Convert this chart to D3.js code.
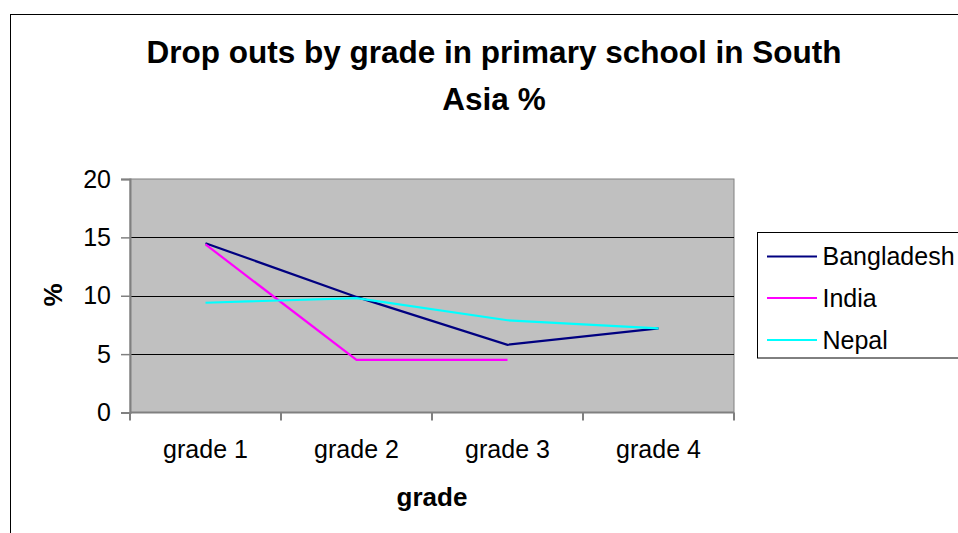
<!DOCTYPE html>
<html>
<head>
<meta charset="utf-8">
<script src="https://cdn.jsdelivr.net/npm/d3@7"></script>
<style>
  html, body { margin: 0; padding: 0; background: #fff; }
  svg { display: block; }
  text { font-family: "Liberation Sans", Arial, sans-serif; fill: #000; }
</style>
</head>
<body>
<svg id="chart" width="958" height="533"></svg>
<script>
const categories = ["grade 1", "grade 2", "grade 3", "grade 4"];
const seriesNames = ["Bangladesh", "India", "Nepal"];
const bangladesh = [14.5, 9.9, 5.8, 7.2];
const india = [14.4, 4.5, 4.5, null];
const nepal = [9.4, 9.8, 7.9, 7.2];
const yTicks = [0, 5, 10, 15, 20];
const colors = ["#000080", "#ff00ff", "#00ffff"];
const titleLines = ["Drop outs by grade in primary school in South", "Asia %"];
const xTitle = "grade";
const yTitle = "%";

const series = [bangladesh, india, nepal];
const svg = d3.select("#chart");

// chart frame
svg.append("rect").attr("x", 10.5).attr("y", 14.5).attr("width", 960).attr("height", 540)
  .attr("fill", "#fff").attr("stroke", "#000").attr("stroke-width", 1);

const plot = { left: 130, right: 734, top: 179, bottom: 412.5 };
const x = d3.scaleBand().domain(categories).range([plot.left, plot.right]).padding(0);
const y = d3.scaleLinear().domain([0, 20]).range([plot.bottom, plot.top]);

// plot area
svg.append("rect").attr("x", plot.left).attr("y", plot.top)
  .attr("width", plot.right - plot.left).attr("height", plot.bottom - plot.top)
  .attr("fill", "#c0c0c0").attr("stroke", "#808080").attr("stroke-width", 1);

// gridlines
svg.append("g").selectAll("line").data(yTicks.filter(t => t > 0 && t < 20)).join("line")
  .attr("x1", plot.left).attr("x2", plot.right)
  .attr("y1", d => Math.round(y(d)) + 0.5).attr("y2", d => Math.round(y(d)) + 0.5)
  .attr("stroke", "#000").attr("stroke-width", 1);

// y axis
const yAxis = svg.append("g").attr("transform", `translate(${plot.left},0)`)
  .call(d3.axisLeft(y).tickValues(yTicks).tickSize(9).tickPadding(10));
yAxis.select(".domain").attr("stroke", "#808080").attr("stroke-width", 2);
yAxis.selectAll(".tick line").attr("stroke", "#808080").attr("stroke-width", 1.5);
yAxis.selectAll(".tick text").attr("font-size", 25).attr("font-family", "Liberation Sans, Arial, sans-serif").attr("fill", "#000");

// x axis (ticks at category boundaries)
const boundaries = categories.map(c => x(c)).concat([plot.right]);
const xAxisG = svg.append("g");
xAxisG.append("line").attr("x1", plot.left).attr("x2", plot.right)
  .attr("y1", plot.bottom).attr("y2", plot.bottom).attr("stroke", "#808080").attr("stroke-width", 2);
xAxisG.selectAll("line.tk").data(boundaries).join("line").attr("class", "tk")
  .attr("x1", d => d).attr("x2", d => d).attr("y1", plot.bottom).attr("y2", plot.bottom + 8)
  .attr("stroke", "#808080").attr("stroke-width", 2);
xAxisG.selectAll("text").data(categories).join("text")
  .attr("x", d => x(d) + x.bandwidth() / 2).attr("y", 458)
  .attr("text-anchor", "middle").attr("font-size", 25).text(d => d);

// lines
const line = d3.line()
  .defined(d => d != null)
  .x((d, i) => x(categories[i]) + x.bandwidth() / 2)
  .y(d => y(d));
series.forEach((s, i) => {
  svg.append("path").datum(s).attr("d", line)
    .attr("fill", "none").attr("stroke", colors[i]).attr("stroke-width", 2.2);
});

// titles
svg.append("g").selectAll("text").data(titleLines).join("text")
  .attr("x", 494).attr("y", (d, i) => 63 + i * 47)
  .attr("text-anchor", "middle").attr("font-size", 31.5).attr("font-weight", "bold").text(d => d);
svg.append("text").attr("x", 432).attr("y", 506).attr("text-anchor", "middle")
  .attr("font-size", 26).attr("font-weight", "bold").text(xTitle);
svg.append("text").attr("transform", "translate(62,295) rotate(-90)").attr("text-anchor", "middle")
  .attr("font-size", 26).attr("font-weight", "bold").text(yTitle);

// legend
const lg = svg.append("g");
lg.append("rect").attr("x", 757.5).attr("y", 232.5).attr("width", 220).attr("height", 125.5)
  .attr("fill", "#fff").attr("stroke", "#000").attr("stroke-width", 1);
const legendY = [256.5, 298, 340];
seriesNames.forEach((n, i) => {
  lg.append("line").attr("x1", 767).attr("x2", 817).attr("y1", legendY[i]).attr("y2", legendY[i])
    .attr("stroke", colors[i]).attr("stroke-width", 2.2);
  lg.append("text").attr("x", 822.5).attr("y", legendY[i]).attr("dy", "0.35em")
    .attr("font-size", 25).text(n);
});
</script>
</body>
</html>
